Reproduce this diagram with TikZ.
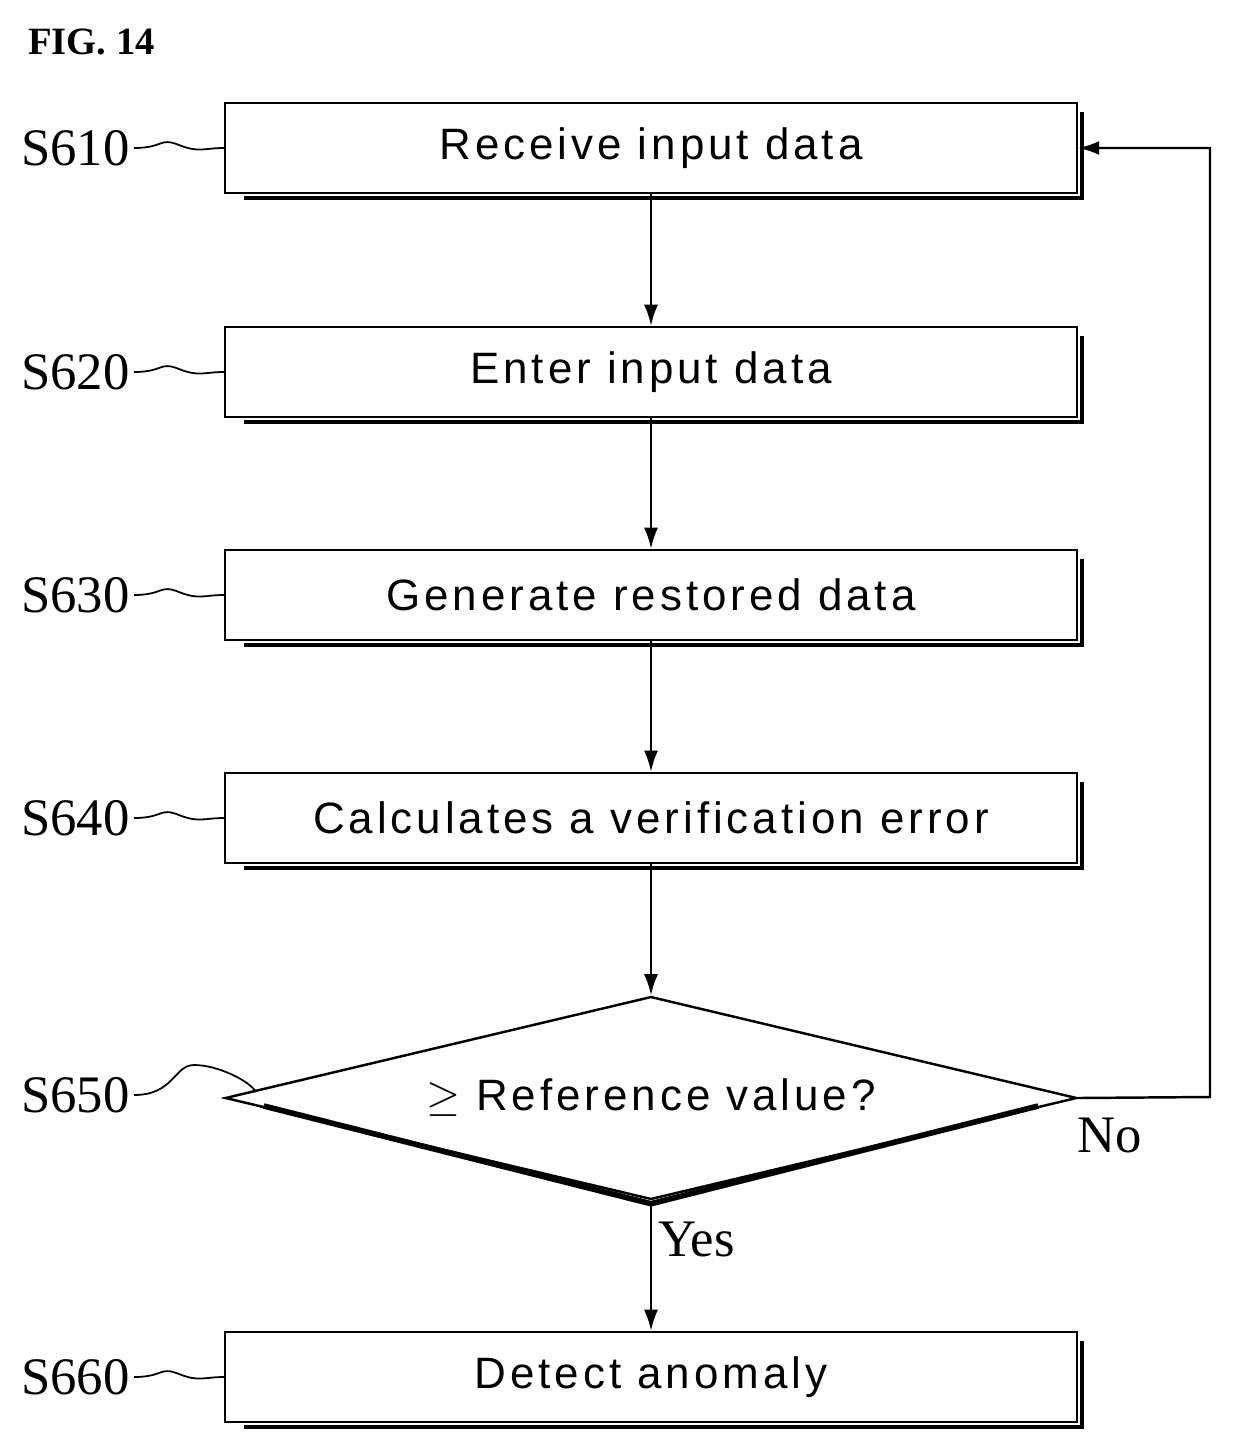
\documentclass[tikz,border=0pt]{standalone}
\usepackage{fontspec}
\setmainfont{Liberation Serif}
\setsansfont{Liberation Sans}[LetterSpace=9]
\usetikzlibrary{shapes.geometric,arrows.meta}

\tikzset{
  procbox/.style={draw, line width=1.4pt, minimum width=17.04cm, minimum height=1.8cm,
    inner sep=0pt, font=\sffamily\fontsize{25}{28}\selectfont},
  tag/.style={font=\fontsize{30}{32}\selectfont, anchor=east, inner sep=0pt},
  flow/.style={line width=1.4pt, -{Latex[length=12pt,width=8pt]}},
  squig/.style={line width=1pt}
}
\newcommand{\boxshade}[1]{%
  \draw[line width=2.4pt] ([shift={(4,10)}]#1.north east) -- ([shift={(4,4)}]#1.south east)
    -- ([shift={(20,4)}]#1.south west);}

\begin{document}
\begin{tikzpicture}[x=0.02cm, y=-0.02cm]
    \useasboundingbox (0,0) rectangle (1233,1450);

    \node[font=\bfseries\fontsize{22}{24}\selectfont, anchor=west] (fig) at (22,42) {FIG. 14};

    % steps
    \node[procbox] (s610) at (651,148) {Receive input data};
    \node[procbox] (s620) at (651,372) {Enter input data};
    \node[procbox] (s630) at (651,595) {Generate restored data};
    \node[procbox] (s640) at (651,818) {Calculates a verification error};
    \node[draw, diamond, line width=1.4pt, minimum width=17.04cm, minimum height=4.06cm,
      aspect=4.2, inner sep=0pt, font=\sffamily\fontsize{25}{28}\selectfont] (s650) at (651,1098) {$\geq$ Reference value?};
    \node[procbox] (s660) at (651,1377) {Detect anomaly};

    \foreach \s in {s610,s620,s630,s640,s660} {\boxshade{\s}}
    \draw[line width=3.2pt] ([shift={(40,8)}]s650.west) -- ([shift={(0,3)}]s650.south) -- ([shift={(-40,8)}]s650.east);

    % labels
    \foreach \s/\t in {s610/S610,s620/S620,s630/S630,s640/S640,s660/S660} {
      \node[tag] (l\s) at (130,0 |- \s.west) {\t};
      \draw[squig] (l\s.east) ++(4,0) .. controls +(30,0) and +(-20,-8) .. ++(45,-3)
        .. controls +(20,8) and +(-20,0) .. (\s.west);
    }
    \node[tag] (ls650) at (130,1095) {S650};
    \draw[squig] (ls650.east) ++(4,0) .. controls +(40,0) and +(-20,0) .. ++(60,-30)
      .. controls +(25,0) and +(-5,-10) .. ([shift={(32,-6)}]s650.west);

    % connectors
    \draw[flow] (s610) -- (s620);
    \draw[flow] (s620) -- (s630);
    \draw[flow] (s630) -- (s640);
    \draw[flow] (s640) -- (s650);
    \draw[flow] (s650) -- node[pos=0.3, right, font=\fontsize{30}{32}\selectfont] (yes) {Yes} (s660);
    \coordinate (back) at (1210,1097);
    \draw[flow] (s650.east) -- (back) |- (s610.east);
    \node[font=\fontsize{30}{32}\selectfont] (no) at (1110,1135) {No};
\end{tikzpicture}
\end{document}
